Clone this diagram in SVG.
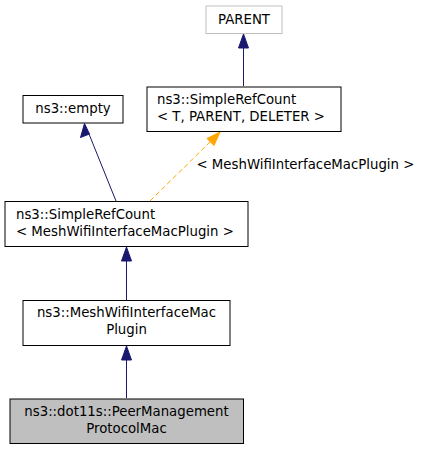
<svg xmlns="http://www.w3.org/2000/svg" width="423" height="451" viewBox="0 0 423 451">
<defs>
<style>
text{font-family:"DejaVu Sans",sans-serif;font-size:13.3px;fill:#000}
.n{fill:#fff;stroke:#000;stroke-width:1}
.e{stroke:#191970;stroke-width:1;fill:none}
.o{stroke:#ffa500;stroke-width:1;fill:none;stroke-dasharray:5,3}
.c{text-anchor:middle}
</style>
<marker id="ab" markerWidth="10" markerHeight="14" refX="5" refY="0" orient="auto" markerUnits="userSpaceOnUse" viewBox="0 0 10 14" overflow="visible">
</marker>
</defs>
<g id="connectors">
<line class="e" x1="243.5" y1="86" x2="243.5" y2="46"/>
<polygon points="243.5,34 238.5,48 248.5,48" fill="#191970" stroke="#191970"/>
<line class="e" x1="116" y1="201" x2="89" y2="134"/>
<polygon points="84.5,123.5 80.5,137.5 89.5,134" fill="#191970" stroke="#191970"/>
<line class="o" x1="150" y1="201" x2="212" y2="140"/>
<polygon points="220,132 207,138.5 214,145.5" fill="#ffa500" stroke="#ffa500"/>
<text x="196.5" y="169">&lt; MeshWifiInterfaceMacPlugin &gt;</text>
<line class="e" x1="126.5" y1="300" x2="126.5" y2="260"/>
<polygon points="126.5,247 121.5,261 131.5,261" fill="#191970" stroke="#191970"/>
<line class="e" x1="126.5" y1="398" x2="126.5" y2="358"/>
<polygon points="126.5,346 121.5,360 131.5,360" fill="#191970" stroke="#191970"/>
</g>
<g id="node-parent">
<rect x="206" y="6" width="76" height="27.5" fill="#fff" stroke="#bfbfbf"/>
<text class="c" x="244" y="23.5">PARENT</text>
</g>
<g id="node-simplerefcount-t">
<rect class="n" x="147" y="87" width="194" height="44.5"/>
<text x="157" y="103.5">ns3::SimpleRefCount</text>
<text x="157" y="120.5">&lt; T, PARENT, DELETER &gt;</text>
</g>
<g id="node-empty">
<rect class="n" x="23" y="95.5" width="100" height="27.5"/>
<text class="c" x="73" y="112.5">ns3::empty</text>
</g>
<g id="node-simplerefcount-mesh">
<rect class="n" x="5" y="201.5" width="243" height="45"/>
<text x="16" y="219">ns3::SimpleRefCount</text>
<text x="16" y="235.5">&lt; MeshWifiInterfaceMacPlugin &gt;</text>
</g>
<g id="node-meshwifiinterfacemacplugin">
<rect class="n" x="23" y="300.5" width="207" height="45"/>
<text class="c" x="126.5" y="316.5">ns3::MeshWifiInterfaceMac</text>
<text class="c" x="126.5" y="334">Plugin</text>
</g>
<g id="node-peermanagementprotocolmac">
<rect x="10" y="399" width="233.5" height="44.5" fill="#bfbfbf" stroke="#000"/>
<text class="c" x="126.5" y="415.5">ns3::dot11s::PeerManagement</text>
<text class="c" x="126.5" y="432.5">ProtocolMac</text>
</g>
</svg>
